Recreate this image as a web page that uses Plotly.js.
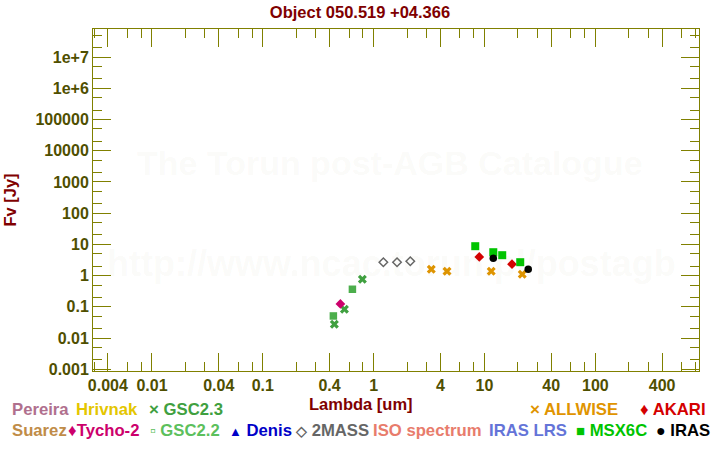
<!DOCTYPE html>
<html>
<head>
<meta charset="utf-8">
<script src="https://cdn.plot.ly/plotly-3.0.1.min.js"></script>
<style>html,body{margin:0;padding:0;background:#fff;}#chart{width:720px;height:450px;}</style>
</head>
<body>
<div id="chart"></div>
<script>
// ---------------- data ----------------
const gsc22_x = [0.433, 0.643];
const gsc22_y = [0.0511, 0.366];
const gsc23_x = [0.442, 0.545, 0.791];
const gsc23_y = [0.0277, 0.0838, 0.767];
const tycho_x = [0.501];
const tycho_y = [0.124];
const twomass_x = [1.223, 1.625, 2.14];
const twomass_y = [2.69, 2.69, 2.89];
const allwise_x = [3.31, 4.59, 11.5, 21.9];
const allwise_y = [1.60, 1.38, 1.38, 1.11];
const akari_x = [8.97, 17.7];
const akari_y = [3.97, 2.32];
const msx_x = [8.25, 12.0, 14.45, 21.0];
const msx_y = [8.75, 5.62, 4.51, 2.69];
const iras_x = [12.0, 24.8];
const iras_y = [3.61, 1.60];

const xTickVals = [0.004, 0.01, 0.04, 0.1, 0.4, 1, 4, 10, 40, 100, 400];
const xTickText = ['0.004', '0.01', '0.04', '0.1', '0.4', '1', '4', '10', '40', '100', '400'];
const xMinorVals = [0.003, 0.006, 0.008, 0.02, 0.03, 0.06, 0.08, 0.2, 0.3, 0.6, 0.8, 2, 3, 6, 8, 20, 30, 60, 80, 200, 300, 600, 800];
const yTickVals = [1e-3, 1e-2, 1e-1, 1, 10, 100, 1e3, 1e4, 1e5, 1e6, 1e7];
const yTickText = ['0.001', '0.01', '0.1', '1', '10', '100', '1000', '10000', '100000', '1e+6', '1e+7'];
const yMinorVals = [2e-3, 5e-3, 2e-2, 5e-2, 0.2, 0.5, 2, 5, 20, 50, 200, 500, 2e3, 5e3, 2e4, 5e4, 2e5, 5e5, 2e6, 5e6, 2e7, 5e7];

const legendNames = ['Pereira', 'Hrivnak', 'GSC2.3', 'ALLWISE', 'AKARI',
  'Suarez', 'Tycho-2', 'GSC2.2', 'Denis', '2MASS', 'ISO spectrum', 'IRAS LRS', 'MSX6C', 'IRAS'];
const legendSymbols = ['', '', '×', '×', '♦', '', '♦', '▫', '▲', '◇', '', '', '■', '●'];

const titleText = 'Object 050.519 +04.366';
const xTitle = 'Lambda [um]';
const yTitle = 'Fv [Jy]';
const watermark1 = 'The Torun post-AGB Catalogue';
const watermark2 = 'http://www.ncac.torun.pl/postagb';

// ---------------- styles / layout ----------------
const legendColors = ['#b0708e', '#e4c600', '#40a040', '#e09400', '#d40000',
  '#c08c48', '#cc006c', '#5cc05c', '#0000c8', '#666666', '#e87c6c', '#6474d8', '#00c400', '#000000'];
const legendPx = [10, 74, 147, 528, 638, 10, 66, 148, 227, 293, 371, 487, 574, 654];
const legendRowPy = [409, 409, 409, 409, 409, 430, 430, 430, 430, 430, 430, 430, 430, 430];
const legendGap = ['', '', ' ', ' ', ' ', '', '', ' ', ' ', ' ', '', '', ' ', ' '];
const legendSymSize = [0, 0, 17, 17, 17, 0, 17, 16, 13, 14, 0, 0, 15, 16];

const W = 720, H = 450;
const M = {l: 93, r: 21, t: 29, b: 79};
const PW = W - M.l - M.r, PH = H - M.t - M.b;
const px2x = p => (p - M.l) / PW;
const py2y = p => (H - M.b - p) / PH;

const FONT = 'Liberation Sans, Arial, sans-serif';
const AX = '#808000';
const TICKFONT = {family: FONT, size: 16, color: '#4f4f00', weight: 'bold'};

function tr(x, y, symbol, color, size) {
  return {
    x: x, y: y, type: 'scatter', mode: 'markers', hoverinfo: 'skip', showlegend: false,
    marker: {symbol: symbol, color: color, size: size, line: {width: 0}}
  };
}

const traces = [
  tr(gsc22_x, gsc22_y, 'square', '#4cae4c', 7.5),
  tr(gsc23_x, gsc23_y, 'x', '#40a040', 8),
  tr(tycho_x, tycho_y, 'diamond', '#cc006c', 7.5),
  tr(twomass_x, twomass_y, 'diamond-open', '#666666', 6.5),
  tr(allwise_x, allwise_y, 'x', '#e09400', 8),
  tr(akari_x, akari_y, 'diamond', '#d40000', 7.5),
  tr(msx_x, msx_y, 'square', '#00c400', 8),
  tr(iras_x, iras_y, 'circle', '#000000', 7.5)
];
traces[3].marker.line = {width: 1.5, color: '#666666'};

const annotations = [];
annotations.push({text: watermark1, xref: 'paper', yref: 'paper', x: px2x(390), y: py2y(163),
  xanchor: 'center', yanchor: 'middle', showarrow: false,
  font: {family: FONT, size: 34, color: 'rgba(150,150,90,0.05)', weight: 'bold'}});
annotations.push({text: watermark2, xref: 'paper', yref: 'paper', x: px2x(391), y: py2y(263),
  xanchor: 'center', yanchor: 'middle', showarrow: false,
  font: {family: FONT, size: 36, color: 'rgba(150,150,90,0.05)', weight: 'bold'}});
annotations.push({text: xTitle, xref: 'paper', yref: 'paper', x: px2x(361), y: py2y(404),
  xanchor: 'center', yanchor: 'middle', showarrow: false,
  font: {family: FONT, size: 16.5, color: '#800000', weight: 'bold'}});

for (let i = 0; i < legendNames.length; i++) {
  const sym = legendSymbols[i];
  const t = sym ? '<span style="font-size:' + legendSymSize[i] + 'px">' + sym + '</span>' + legendGap[i] + legendNames[i] : legendNames[i];
  annotations.push({text: t, xref: 'paper', yref: 'paper', x: px2x(legendPx[i]), y: py2y(legendRowPy[i]),
    xanchor: 'left', yanchor: 'middle', showarrow: false,
    font: {family: FONT, size: 16.7, color: legendColors[i], weight: 'bold'}});
}

const axisCommon = {
  type: 'log', showline: true, linecolor: AX, linewidth: 1, mirror: 'ticks',
  ticks: 'inside', ticklen: 18, tickwidth: 1, tickcolor: AX, showgrid: false, zeroline: false,
  tickmode: 'array', tickfont: TICKFONT, fixedrange: true
};

const layout = {
  width: W, height: H, margin: M, paper_bgcolor: '#ffffff', plot_bgcolor: '#ffffff',
  showlegend: false,
  title: {text: titleText, x: 0.5, xref: 'container', y: 1 - 12 / H, yref: 'container', xanchor: 'center', yanchor: 'middle',
    font: {family: FONT, size: 16.5, color: '#800000', weight: 'bold'}},
  xaxis: Object.assign({}, axisCommon, {
    range: [-2.532, 2.935], tickvals: xTickVals, ticktext: xTickText,
    minor: {tickmode: 'array', tickvals: xMinorVals, ticks: 'inside', ticklen: 9, tickwidth: 1, tickcolor: AX, showgrid: false}
  }),
  yaxis: Object.assign({}, axisCommon, {
    range: [-3.054, 7.897], tickvals: yTickVals, ticktext: yTickText,
    minor: {tickmode: 'array', tickvals: yMinorVals, ticks: 'inside', ticklen: 9, tickwidth: 1, tickcolor: AX, showgrid: false},
    title: {text: yTitle, standoff: 14, font: {family: FONT, size: 16.5, color: '#800000', weight: 'bold'}}
  }),
  annotations: annotations
};

Plotly.newPlot('chart', traces, layout, {displayModeBar: false, staticPlot: true});
</script>
</body>
</html>
